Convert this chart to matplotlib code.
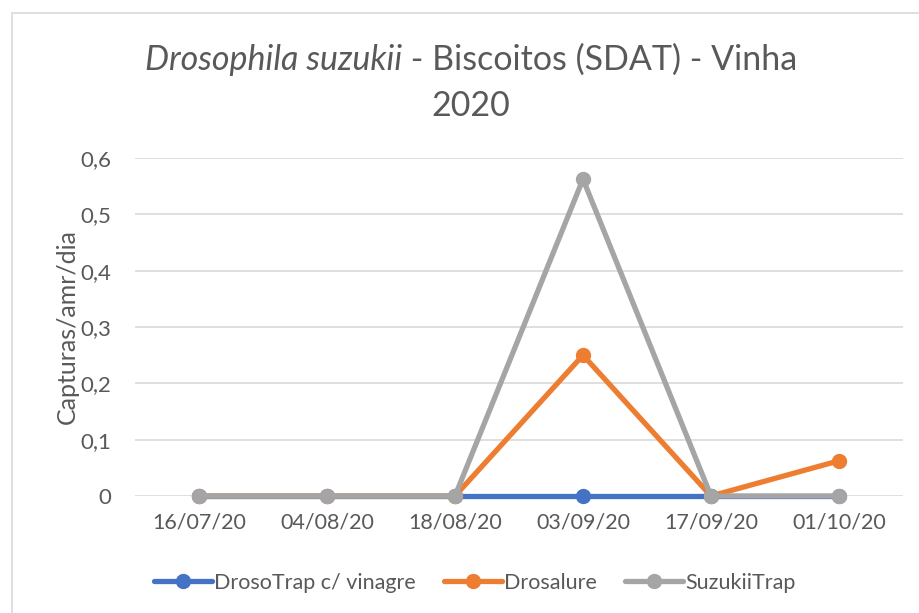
import matplotlib
matplotlib.use("Agg")
import matplotlib.pyplot as plt
from matplotlib.patches import Rectangle
from matplotlib.ticker import FuncFormatter

# data
dates = ["16/07/20", "04/08/20", "18/08/20", "03/09/20", "17/09/20", "01/10/20"]
drosotrap = [0, 0, 0, 0, 0, 0]
drosalure = [0, 0, 0, 0.25, 0, 0.0625]
suzukiitrap = [0, 0, 0, 0.5625, 0, 0]

series = [
    ("DrosoTrap c/ vinagre", drosotrap, "#4472C4"),
    ("Drosalure", drosalure, "#ED7D31"),
    ("SuzukiiTrap", suzukiitrap, "#A5A5A5"),
]

plt.rcParams["font.family"] = ["Lato", "DejaVu Sans"]
text_col = "#595959"

W, H = 919, 613
fig = plt.figure(figsize=(W / 100, H / 100), dpi=100)

# chart frame (runs off the right/bottom edge like the screenshot)
fig.patches.append(Rectangle((12 / W, -0.05), 1.0, 1 - 13 / H + 0.05,
                             transform=fig.transFigure, fill=False,
                             edgecolor="#D9D9D9", linewidth=1.2))

ax = fig.add_axes([135 / W, 1 - 496 / H, 768 / W, 338 / H])
x = list(range(len(dates)))
for name, vals, col in series:
    ax.plot(x, vals, color=col, linewidth=3.8, marker="o", markersize=10,
            label=name, solid_capstyle="round", clip_on=False)

ax.set_xlim(-0.5, len(dates) - 0.5)
ax.set_ylim(0, 0.6)
ax.set_yticks([0, 0.1, 0.2, 0.3, 0.4, 0.5, 0.6])
ax.yaxis.set_major_formatter(FuncFormatter(lambda v, p: "0" if v == 0 else f"{v:.1f}".replace(".", ",")))
ax.set_xticks(x)
ax.set_xticklabels(dates)
ax.grid(axis="y", color="#D9D9D9", linewidth=1.2)
ax.set_axisbelow(True)
for s in ax.spines.values():
    s.set_visible(False)
ax.tick_params(axis="y", length=0, labelsize=16, colors=text_col, pad=17)
ax.tick_params(axis="x", length=0, labelsize=15.5, colors=text_col, pad=12)

ax.set_ylabel("Capturas/amr/dia", fontsize=18, color=text_col, labelpad=1)

# title: italic species name + regular rest, centred as one line
t1 = fig.text(0, 0, "Drosophila suzukii", style="italic", fontsize=24.5, color=text_col)
t2 = fig.text(0, 0, " - Biscoitos (SDAT) - Vinha", fontsize=24.5, color=text_col)
fig.canvas.draw()
r = fig.canvas.get_renderer()
w1 = t1.get_window_extent(r).width
w2 = t2.get_window_extent(r).width
x0 = 471 - (w1 + w2) / 2
t1.set_position((x0 / W, 1 - 70 / H))
t2.set_position(((x0 + w1) / W, 1 - 70 / H))
fig.text(471 / W, 1 - 116 / H, "2020", fontsize=24.5, color=text_col, ha="center")

ax.legend(loc="center", bbox_to_anchor=(475 / W, 1 - 583 / H),
          bbox_transform=fig.transFigure, ncol=3, frameon=False, fontsize=15.5,
          labelcolor=text_col, handlelength=2.7, handletextpad=0.1,
          columnspacing=1.3)

fig.savefig("out.png", dpi=100)
